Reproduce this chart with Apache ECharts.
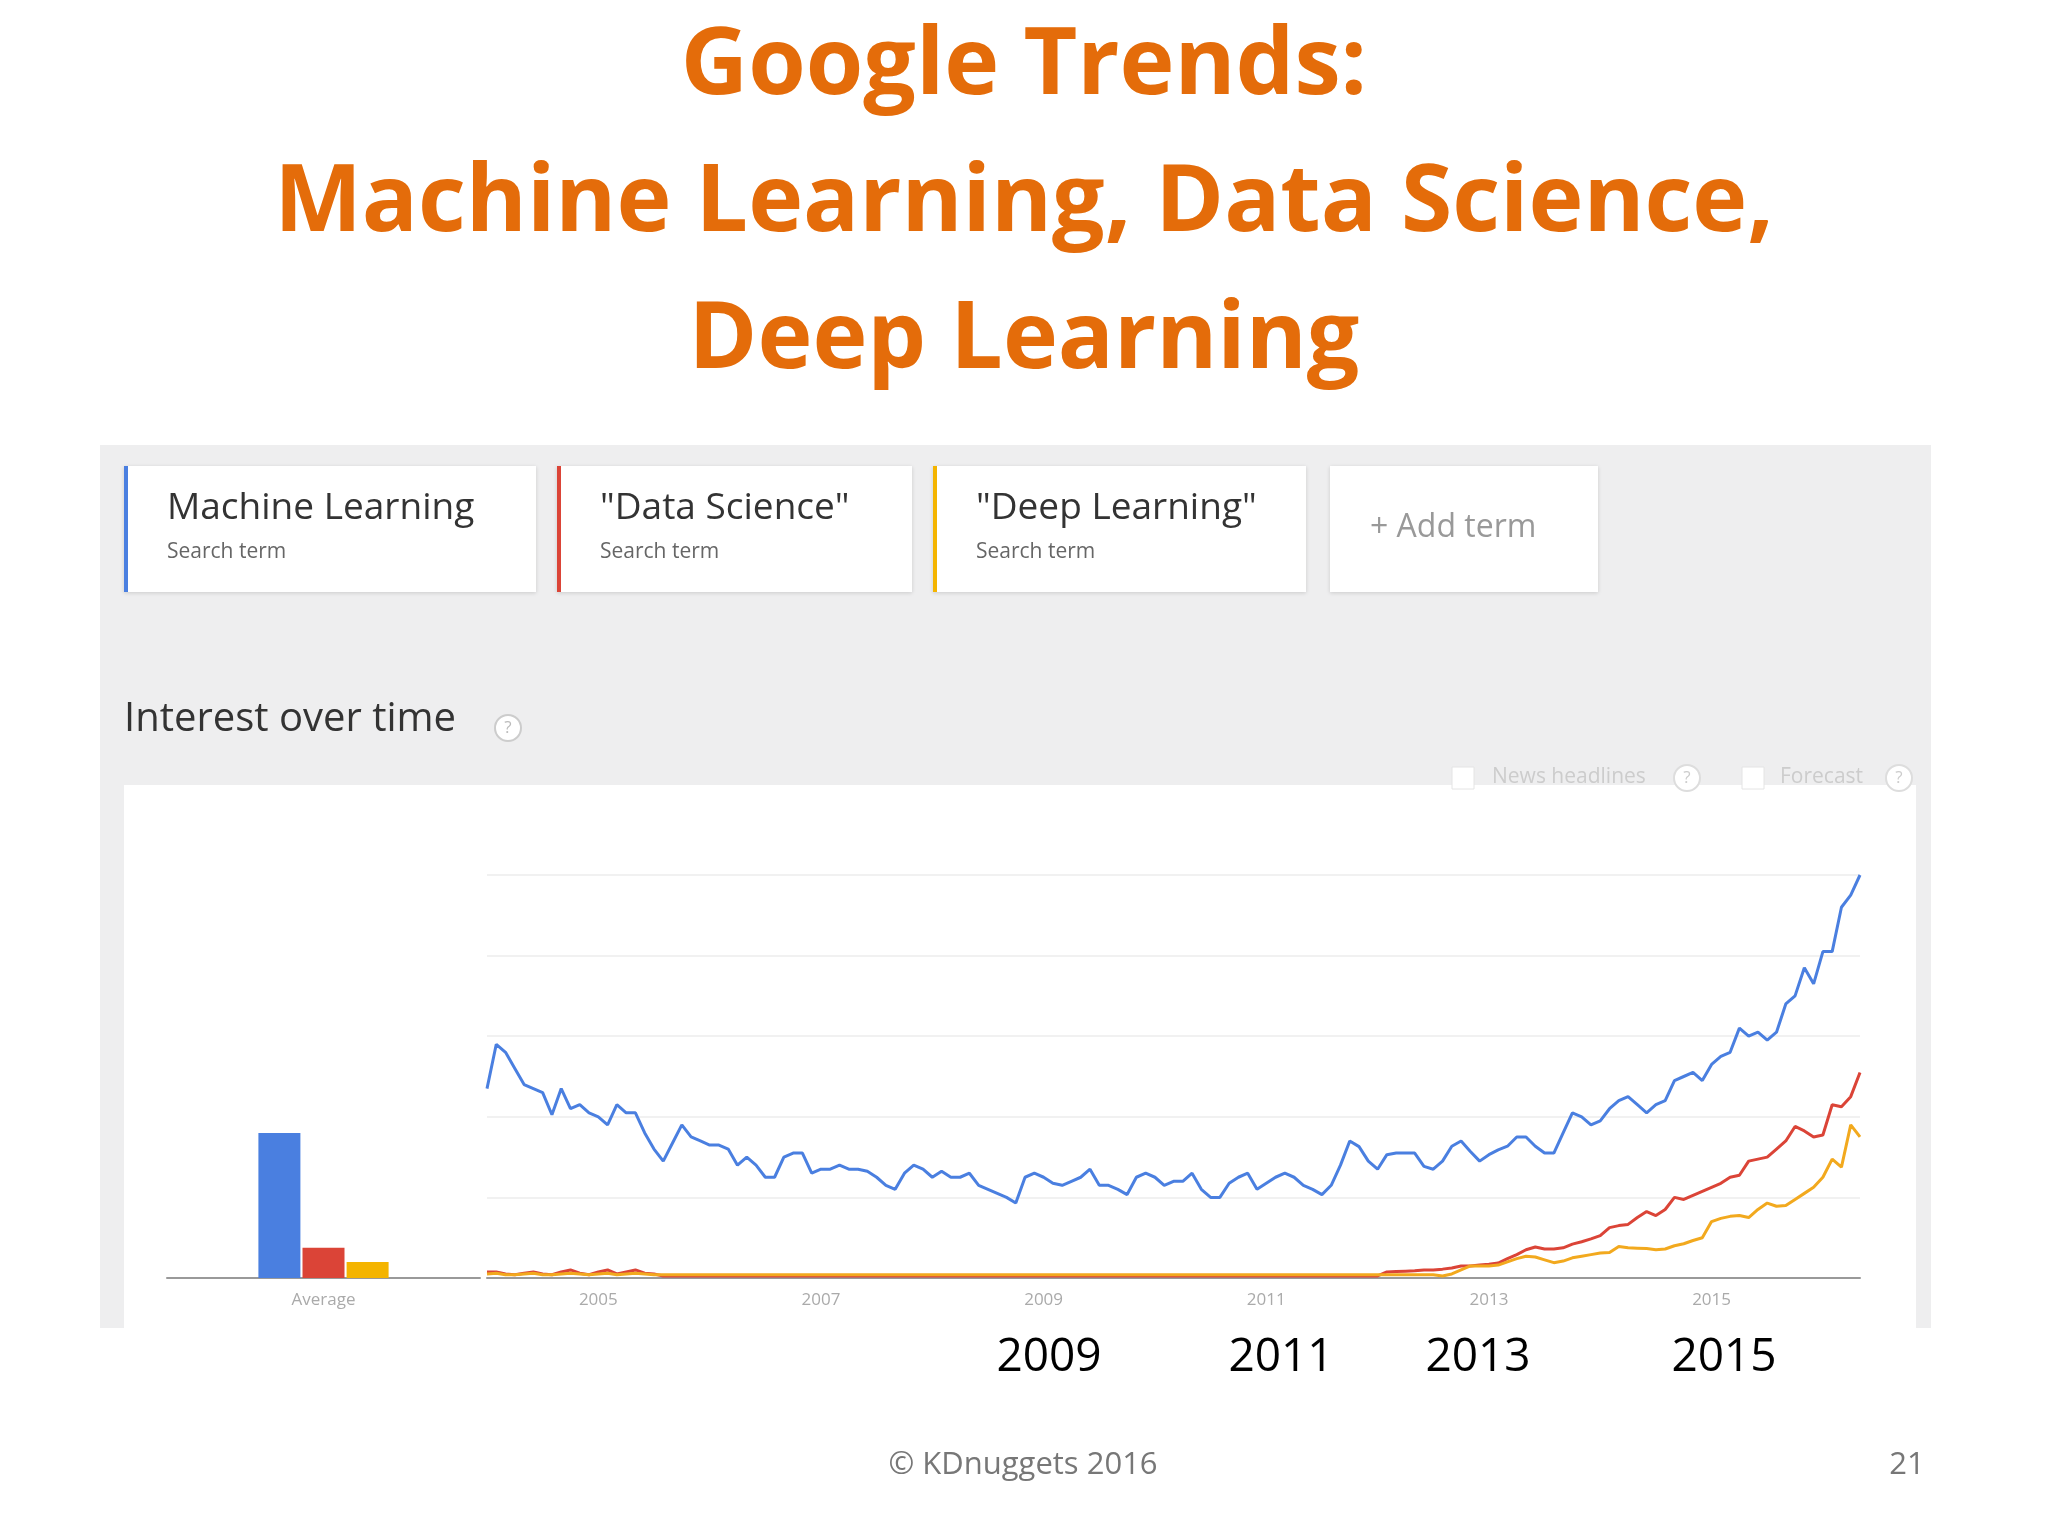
<!DOCTYPE html>
<html>
<head>
<meta charset="utf-8">
<script src="https://cdn.jsdelivr.net/npm/echarts@6/dist/echarts.min.js"></script>
<style>
  html, body { margin: 0; padding: 0; background: #fff; }
  #main { width: 2048px; height: 1536px; }
</style>
</head>
<body>
<div id="main"></div>
<script>
// ---------- data ----------
var terms = ['Machine Learning', '"Data Science"', '"Deep Learning"'];
var colors = ['#4A7FE0', '#DB4437', '#F4B400'];
var averages = [36, 7.5, 4];

// monthly, Jan 2004 .. May 2016
var mlValues = [
  47, 58, 56, 52, 48, 47, 46, 40.5, 47, 42,
  43, 41, 40, 38, 43, 41, 41, 36, 32, 29,
  33.5, 38, 35, 34, 33, 33, 32, 28, 30, 28,
  25, 25, 30, 31, 31, 26, 27, 27, 28, 27,
  27, 26.5, 25, 23, 22, 26, 28, 27, 25, 26.5,
  25, 25, 26, 23, 22, 21, 20, 18.6, 25, 26,
  25, 23.5, 23, 24, 25, 27, 23, 23, 22, 20.7,
  25, 26, 25, 23, 24, 24, 26,
  22, 20, 20, 23.5, 25, 26, 22, 23.5, 25, 26,
  25, 23, 22, 20.7, 23, 28, 34, 32.6, 29, 27,
  30.6, 31, 31, 31, 27.7, 27, 29, 32.7, 34, 31.4,
  29, 30.6, 31.8, 32.7, 35, 35, 32.7, 31, 31, 36,
  41, 40, 38, 39, 42, 44, 45, 43, 41, 43,
  44, 49, 50, 51, 49, 53, 55, 56, 62, 60,
  61, 59, 61, 68, 70, 77, 73, 81, 81, 92,
  95, 100
];
var dsValues = [
  1.5, 1.5, 1, 0.8, 1.2, 1.5, 1, 0.8, 1.5, 2,
  1.2, 0.8, 1.5, 2, 1, 1.5, 2, 1.2, 1, 0.5,
  0.5, 0.5, 0.5, 0.5, 0.5, 0.5, 0.5, 0.5, 0.5, 0.5,
  0.5, 0.5, 0.5, 0.5, 0.5, 0.5, 0.5, 0.5, 0.5, 0.5,
  0.5, 0.5, 0.5, 0.5, 0.5, 0.5, 0.5, 0.5, 0.5, 0.5,
  0.5, 0.5, 0.5, 0.5, 0.5, 0.5, 0.5, 0.5, 0.5, 0.5,
  0.5, 0.5, 0.5, 0.5, 0.5, 0.5, 0.5, 0.5, 0.5, 0.5,
  0.5, 0.5, 0.5, 0.5, 0.5, 0.5, 0.5,
  0.5, 0.5, 0.5, 0.5, 0.5, 0.5, 0.5, 0.5, 0.5, 0.5,
  0.5, 0.5, 0.5, 0.5, 0.5, 0.5, 0.5, 0.5, 0.5, 0.5,
  1.5, 1.6, 1.7, 1.8, 2, 2, 2.2, 2.5, 3, 3,
  3.2, 3.4, 3.7, 4.8, 5.8, 7, 7.7, 7.2, 7.2, 7.5,
  8.4, 9, 9.7, 10.5, 12.5, 13, 13.3, 15, 16.5, 15.5,
  17, 20, 19.5, 20.5, 21.5, 22.5, 23.5, 25, 25.5, 29,
  29.5, 30, 32, 34, 37.6, 36.5, 35, 35.5, 43, 42.5,
  45, 51
];
var dlValues = [
  1, 1.2, 0.8, 0.8, 1, 1.2, 0.8, 0.8, 1, 1.2,
  1, 0.8, 1, 1.2, 0.8, 1, 1.2, 1, 0.8, 0.8,
  0.8, 0.8, 0.8, 0.8, 0.8, 0.8, 0.8, 0.8, 0.8, 0.8,
  0.8, 0.8, 0.8, 0.8, 0.8, 0.8, 0.8, 0.8, 0.8, 0.8,
  0.8, 0.8, 0.8, 0.8, 0.8, 0.8, 0.8, 0.8, 0.8, 0.8,
  0.8, 0.8, 0.8, 0.8, 0.8, 0.8, 0.8, 0.8, 0.8, 0.8,
  0.8, 0.8, 0.8, 0.8, 0.8, 0.8, 0.8, 0.8, 0.8, 0.8,
  0.8, 0.8, 0.8, 0.8, 0.8, 0.8, 0.8,
  0.8, 0.8, 0.8, 0.8, 0.8, 0.8, 0.8, 0.8, 0.8, 0.8,
  0.8, 0.8, 0.8, 0.8, 0.8, 0.8, 0.8, 0.8, 0.8, 0.8,
  0.8, 0.8, 0.8, 0.8, 0.8, 0.8, 0.5, 1, 2, 3,
  3, 3, 3.2, 4, 4.8, 5.4, 5.2, 4.5, 3.8, 4.2,
  5, 5.4, 5.8, 6.2, 6.3, 7.8, 7.5, 7.4, 7.3, 7,
  7.2, 8, 8.5, 9.3, 10, 14, 14.8, 15.3, 15.5, 15,
  17, 18.6, 17.8, 18, 19.5, 21, 22.5, 25, 29.5, 27.5,
  38, 35
];

var months = [];
for (var y = 2004; y <= 2016; y++) {
  for (var m = 1; m <= 12; m++) {
    if (months.length < mlValues.length) months.push(y + '-' + (m < 10 ? '0' + m : m));
  }
}
var yearTicks = ['2005', '2007', '2009', '2011', '2013', '2015'];

// ---------- chart ----------
var chart = echarts.init(document.getElementById('main'));
var orange = '#E46C0A';
var font = '"Open Sans", "Noto Sans", sans-serif';

function card(x, color, title) {
  var els = [
    { type: 'rect', shape: { x: x, y: 466, width: x === 1330 ? 268 : (x === 124 ? 412 : (x === 557 ? 355 : 373)), height: 126 },
      style: { fill: '#fff', shadowBlur: 4, shadowColor: 'rgba(0,0,0,0.15)', shadowOffsetY: 1 } }
  ];
  if (color) {
    els.push({ type: 'rect', shape: { x: x, y: 466, width: 4, height: 126 }, style: { fill: color } });
    els.push({ type: 'text', x: x + 43, y: 490, style: { text: title, fill: '#333', font: '37px ' + font } });
    els.push({ type: 'text', x: x + 43, y: 542, style: { text: 'Search term', fill: '#666', font: '21px ' + font } });
  } else {
    els.push({ type: 'text', x: x + 40, y: 512, style: { text: title, fill: '#999', font: '32px ' + font } });
  }
  return els;
}

var graphics = [
  { type: 'rect', z: -10, shape: { x: 100, y: 445, width: 1831, height: 883 }, style: { fill: '#EEEEEF' } },
  { type: 'rect', z: -9, shape: { x: 124, y: 785, width: 1792, height: 543 }, style: { fill: '#fff' } },
  { type: 'text', x: 124, y: 700, style: { text: 'Interest over time', fill: '#333', font: '40px ' + font } },
  { type: 'circle', shape: { cx: 508, cy: 728, r: 13 }, style: { fill: '#fff', stroke: '#ccc', lineWidth: 2 } },
  { type: 'text', x: 508, y: 728, style: { text: '?', fill: '#bbb', font: '17px ' + font, align: 'center', verticalAlign: 'middle' } },
  { type: 'rect', shape: { x: 1452, y: 767, width: 22, height: 22 }, style: { fill: '#fff', stroke: '#e4e4e4' } },
  { type: 'text', x: 1492, y: 777, style: { text: 'News headlines', fill: '#ccc', font: '21px ' + font, verticalAlign: 'middle' } },
  { type: 'circle', shape: { cx: 1687, cy: 778, r: 13 }, style: { fill: '#fff', stroke: '#ddd', lineWidth: 2 } },
  { type: 'text', x: 1687, y: 778, style: { text: '?', fill: '#ccc', font: '17px ' + font, align: 'center', verticalAlign: 'middle' } },
  { type: 'rect', shape: { x: 1742, y: 767, width: 22, height: 22 }, style: { fill: '#fff', stroke: '#e4e4e4' } },
  { type: 'text', x: 1780, y: 777, style: { text: 'Forecast', fill: '#ccc', font: '21px ' + font, verticalAlign: 'middle' } },
  { type: 'circle', shape: { cx: 1899, cy: 778, r: 13 }, style: { fill: '#fff', stroke: '#ddd', lineWidth: 2 } },
  { type: 'text', x: 1899, y: 778, style: { text: '?', fill: '#ccc', font: '17px ' + font, align: 'center', verticalAlign: 'middle' } },
  { type: 'text', x: 1023, y: 1465, style: { text: '© KDnuggets 2016', fill: '#777', font: '31px ' + font, align: 'center', verticalAlign: 'middle' } },
  { type: 'text', x: 1907, y: 1465, style: { text: '21', fill: '#777', font: '31px ' + font, align: 'center', verticalAlign: 'middle' } }
];
graphics = graphics
  .concat(card(124, colors[0], terms[0]))
  .concat(card(557, colors[1], terms[1]))
  .concat(card(933, colors[2], terms[2]))
  .concat(card(1330, null, '+ Add term'));

var bigLabelX = [1049, 1281, 1478, 1724];
['2009', '2011', '2013', '2015'].forEach(function (t, i) {
  graphics.push({ type: 'text', x: bigLabelX[i], y: 1358, style: { text: t, fill: '#000', font: '46px ' + font, align: 'center', verticalAlign: 'middle' } });
});

var option = {
  animation: false,
  title: {
    text: 'Google Trends:\nMachine Learning, Data Science,\nDeep Learning',
    left: 'center',
    top: -6,
    textStyle: { color: orange, fontSize: 93, fontWeight: 'bold', lineHeight: 137, fontFamily: font }
  },
  graphic: graphics,
  grid: [
    { left: 167, width: 313, top: 875, height: 403 },
    { left: 487, width: 1373, top: 875, height: 403 }
  ],
  xAxis: [
    {
      gridIndex: 0, type: 'category', data: ['Average'],
      axisLine: { lineStyle: { color: '#999', width: 2 } },
      axisTick: { show: false },
      axisLabel: { color: '#aaa', fontSize: 17, margin: 14, fontFamily: font }
    },
    {
      gridIndex: 1, type: 'category', data: months, boundaryGap: false,
      axisLine: { lineStyle: { color: '#999', width: 2 } },
      axisTick: { show: false },
      axisLabel: {
        color: '#aaa', fontSize: 17, margin: 14, fontFamily: font,
        interval: function (idx, val) { return val.slice(5) === '01' && yearTicks.indexOf(val.slice(0, 4)) >= 0; },
        formatter: function (val) { return val.slice(0, 4); }
      }
    }
  ],
  yAxis: [
    { gridIndex: 0, type: 'value', min: 0, max: 100, show: false },
    {
      gridIndex: 1, type: 'value', min: 0, max: 100, interval: 20,
      axisLine: { show: false }, axisTick: { show: false }, axisLabel: { show: false },
      splitLine: { lineStyle: { color: '#ececec', width: 1.5 } }
    }
  ],
  series: [
    { name: terms[0], type: 'bar', xAxisIndex: 0, yAxisIndex: 0, barWidth: 42, barGap: '5%', data: [averages[0]], itemStyle: { color: colors[0] } },
    { name: terms[1], type: 'bar', xAxisIndex: 0, yAxisIndex: 0, barWidth: 42, barGap: '5%', data: [averages[1]], itemStyle: { color: colors[1] } },
    { name: terms[2], type: 'bar', xAxisIndex: 0, yAxisIndex: 0, barWidth: 42, barGap: '5%', data: [averages[2]], itemStyle: { color: colors[2] } },
    { name: terms[0], type: 'line', xAxisIndex: 1, yAxisIndex: 1, data: mlValues, showSymbol: false, lineStyle: { color: colors[0], width: 3 } },
    { name: terms[1], type: 'line', xAxisIndex: 1, yAxisIndex: 1, data: dsValues, showSymbol: false, lineStyle: { color: colors[1], width: 3 } },
    { name: terms[2], type: 'line', xAxisIndex: 1, yAxisIndex: 1, data: dlValues, showSymbol: false, lineStyle: { color: '#F2A91E', width: 3 } }
  ]
};
chart.setOption(option);
</script>
</body>
</html>
